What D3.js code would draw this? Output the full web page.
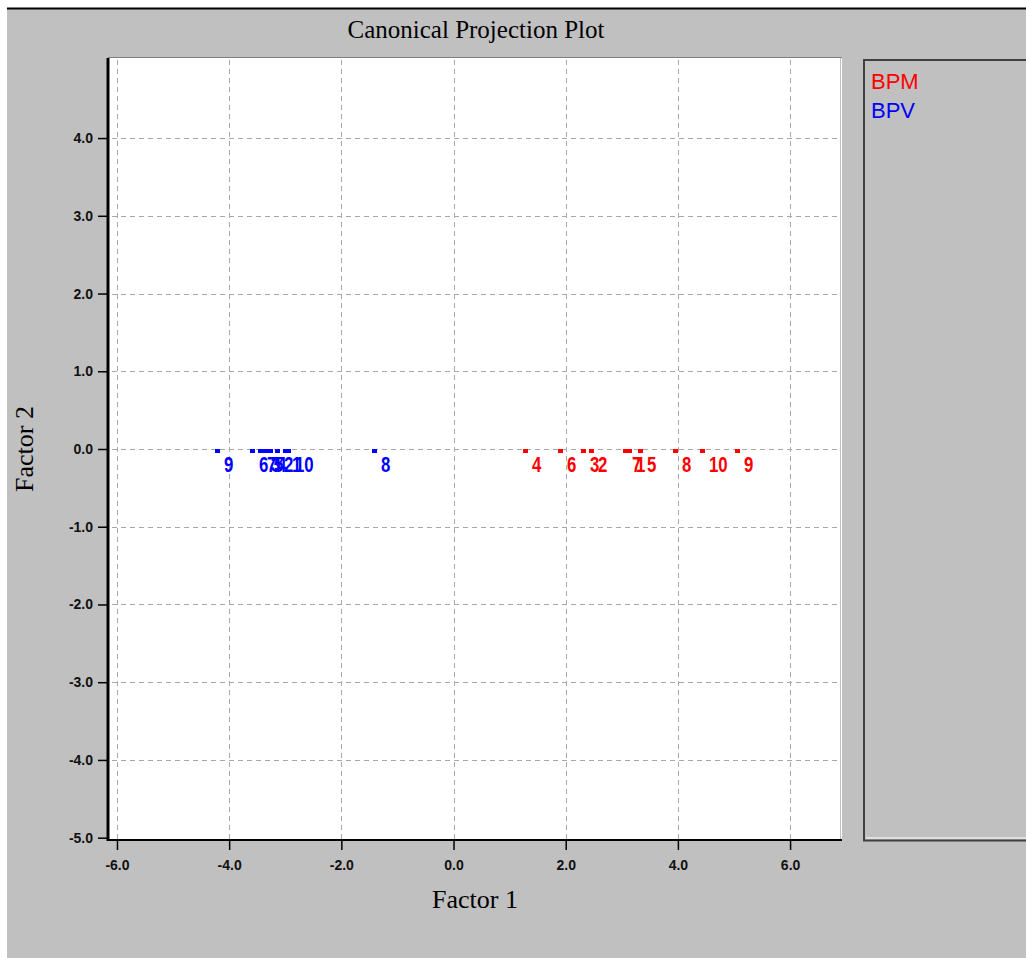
<!DOCTYPE html>
<meta charset="utf-8">
<style>
body, html {
  margin: 0;
  padding: 0;
  background: white;
}
.grid line {
  stroke: #a8a8a8;
  stroke-dasharray: 5,4;
}
.tick text {
  font-family: "Liberation Sans", sans-serif;
  font-size: 14px;
  font-weight: bold;
  fill: #111;
}
.pt text {
  font-family: "Liberation Sans", sans-serif;
  font-weight: bold;
  font-size: 16px;
}
.ttl {
  font-family: "Liberation Serif", serif;
  fill: black;
}
</style>
<svg></svg>
<script src="https://d3js.org/d3.v7.min.js"></script>
<script>

// groups shown in the legend
var groups = ['BPM', 'BPV'];
var groupColors = ['#ff0000', '#0000ff'];

// BPM points (label, factor1, factor2)
var bpmLabels = ['4', '6', '3', '2', '7', '1', '5', '8', '10', '9'];
var bpmF1 = [1.27, 1.9, 2.3, 2.45, 3.05, 3.12, 3.32, 3.95, 4.43, 5.06];
var bpmF2 = [-0.03, -0.03, -0.03, -0.03, -0.03, -0.03, -0.03, -0.03, -0.03, -0.03];

// BPV points
var bpvLabels = ['9', '6', '7', '3', '5', '4', '2', '1', '10', '8'];
var bpvF1 = [-4.22, -3.6, -3.45, -3.38, -3.32, -3.28, -3.15, -3.0, -2.95, -1.42];
var bpvF2 = [-0.03, -0.03, -0.03, -0.03, -0.03, -0.03, -0.03, -0.03, -0.03, -0.03];

var xTicks = [-6, -4, -2, 0, 2, 4, 6];
var yTicks = [-5, -4, -3, -2, -1, 0, 1, 2, 3, 4];

var W = 1026, H = 958;
var plot = {left: 108, top: 58, right: 840, bottom: 840};

var svg = d3.select('svg')
  .attr('width', W)
  .attr('height', H);

// window background
svg.append('rect').attr('x', 7).attr('y', 8).attr('width', W - 7).attr('height', H - 8)
  .attr('fill', '#c0c0c0');
svg.append('line').attr('x1', 7).attr('x2', W).attr('y1', 8.5).attr('y2', 8.5)
  .attr('stroke', '#000').attr('stroke-width', 2);

var x = d3.scaleLinear().domain([-6.16, 6.89]).range([plot.left, plot.right]);
var y = d3.scaleLinear().domain([-5.03, 5.03]).range([plot.bottom, plot.top]);

// plot area
svg.append('rect')
  .attr('x', plot.left).attr('y', plot.top)
  .attr('width', plot.right - plot.left).attr('height', plot.bottom - plot.top)
  .attr('fill', 'white');
svg.append('line').attr('x1', plot.left).attr('x2', plot.right + 2)
  .attr('y1', plot.top - 0.5).attr('y2', plot.top - 0.5)
  .attr('stroke', '#808080');
svg.append('line').attr('x1', plot.right + 1.5).attr('x2', plot.right + 1.5)
  .attr('y1', plot.top).attr('y2', plot.bottom)
  .attr('stroke', '#ffffff');

// grid
var grid = svg.append('g').attr('class', 'grid');
grid.selectAll('.vx').data(xTicks).enter().append('line')
  .attr('x1', d => Math.round(x(d)) + 0.5).attr('x2', d => Math.round(x(d)) + 0.5)
  .attr('y1', plot.top + 2).attr('y2', plot.bottom);
grid.selectAll('.hy').data(yTicks.filter(d => d > -5)).enter().append('line')
  .attr('x1', plot.left + 4).attr('x2', plot.right)
  .attr('y1', d => Math.round(y(d)) + 0.5).attr('y2', d => Math.round(y(d)) + 0.5);

// axes
var fmt = d => d3.format('.1f')(d).replace('−', '-');
var xAxis = svg.append('g')
  .attr('transform', 'translate(0,' + plot.bottom + ')')
  .call(d3.axisBottom(x).tickValues(xTicks).tickFormat(fmt)
    .tickSize(10).tickPadding(10));
var yAxis = svg.append('g')
  .attr('transform', 'translate(' + plot.left + ',0)')
  .call(d3.axisLeft(y).tickValues(yTicks).tickFormat(fmt)
    .tickSize(10).tickPadding(5));
[xAxis, yAxis].forEach(function (a) {
  a.select('.domain').remove();
  a.selectAll('.tick line').attr('stroke', '#000').attr('stroke-width', 1.5);
});

svg.append('line').attr('x1', plot.left).attr('x2', plot.left)
  .attr('y1', plot.top).attr('y2', plot.bottom + 1)
  .attr('stroke', '#000').attr('stroke-width', 3);
svg.append('line').attr('x1', plot.left).attr('x2', plot.right + 2)
  .attr('y1', plot.bottom).attr('y2', plot.bottom)
  .attr('stroke', '#000').attr('stroke-width', 2);

// points
function drawGroup(labels, f1, f2, color) {
  var data = labels.map(function (l, i) { return {label: l, x: f1[i], y: f2[i]}; });
  var g = svg.append('g').attr('class', 'pt');
  g.selectAll('rect').data(data).enter().append('rect')
    .attr('x', d => Math.round(x(d.x)) - 2)
    .attr('y', d => Math.round(y(d.y)) - 2)
    .attr('width', 5).attr('height', 4)
    .attr('fill', color);
  g.selectAll('text').data(data).enter().append('text')
    .attr('transform', d => 'translate(' + (Math.round(x(d.x)) + 7) + ',' + (Math.round(y(d.y)) + 21) + ') scale(1.05,1.4)')
    .attr('fill', color)
    .text(d => d.label);
}
drawGroup(bpmLabels, bpmF1, bpmF2, groupColors[0]);
drawGroup(bpvLabels, bpvF1, bpvF2, groupColors[1]);

// titles
svg.append('text').attr('class', 'ttl')
  .attr('x', 476).attr('y', 38).attr('text-anchor', 'middle')
  .style('font-size', '25px')
  .text('Canonical Projection Plot');
svg.append('text').attr('class', 'ttl')
  .attr('x', 475).attr('y', 908).attr('text-anchor', 'middle')
  .style('font-size', '26px')
  .text('Factor 1');
svg.append('text').attr('class', 'ttl')
  .attr('transform', 'translate(33,449) rotate(-90)')
  .attr('text-anchor', 'middle')
  .style('font-size', '26px')
  .text('Factor 2');

// legend box
var lg = svg.append('g');
lg.append('path').attr('d', 'M864,840 V60 H1026').attr('fill', 'none')
  .attr('stroke', '#404040').attr('stroke-width', 2);
lg.append('path').attr('d', 'M866,838 H1026').attr('fill', 'none')
  .attr('stroke', '#ffffff').attr('stroke-width', 1);
lg.append('line').attr('x1', 863).attr('x2', 1026).attr('y1', 840.5).attr('y2', 840.5)
  .attr('stroke', '#404040').attr('stroke-width', 2);
lg.selectAll('text').data(groups).enter().append('text')
  .attr('x', 871)
  .attr('y', (d, i) => 89 + i * 29)
  .attr('fill', (d, i) => groupColors[i])
  .style('font-family', '"Liberation Sans", sans-serif')
  .style('font-size', '22px')
  .text(d => d);

</script>
